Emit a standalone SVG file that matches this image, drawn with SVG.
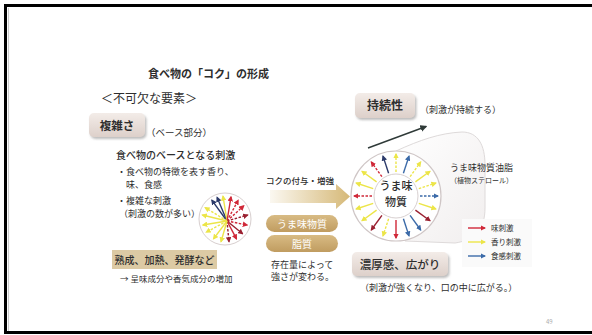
<svg xmlns="http://www.w3.org/2000/svg" width="592" height="335" viewBox="0 0 592 335">
<style>
text{font-family:"Noto Sans CJK JP","Noto Sans",sans-serif;fill:#2e2e2e}
.b{font-weight:bold}
.m{font-weight:500}
.pill{fill:#fff;font-size:10px;text-anchor:middle}
.ar{fill:none;stroke-width:1.4}
.r{stroke:#d02838}.y{stroke:#ece548}.bl{stroke:#3b6aa8}.dr{stroke:#9a2030}.nv{stroke:#2c3a6a}
.d{stroke-dasharray:2.5 1.5}
</style>
<defs>
<filter id="sh" x="-20%" y="-30%" width="150%" height="170%"><feDropShadow dx="1.5" dy="2" stdDeviation="1.2" flood-color="#888" flood-opacity="0.55"/></filter>
<linearGradient id="boxg" x1="0" y1="0" x2="0" y2="1"><stop offset="0" stop-color="#f3ece8"/><stop offset="1" stop-color="#ddd0ca"/></linearGradient>
<linearGradient id="pillg" x1="0" y1="0" x2="0" y2="1"><stop offset="0" stop-color="#d8bb84"/><stop offset="1" stop-color="#c09c60"/></linearGradient>
<linearGradient id="arrg" x1="0" y1="0" x2="1" y2="0"><stop offset="0" stop-color="#fbf8f1"/><stop offset="1" stop-color="#d6b978"/></linearGradient>
<linearGradient id="cylg" x1="0" y1="0" x2="1" y2="1"><stop offset="0" stop-color="#ffffff"/><stop offset="1" stop-color="#f1eeee"/></linearGradient>
<marker id="mr" viewBox="0 0 10 10" refX="8" refY="5" markerWidth="4" markerHeight="4" orient="auto"><path d="M0,0L10,5L0,10z" fill="#d02838"/></marker>
<marker id="my" viewBox="0 0 10 10" refX="8" refY="5" markerWidth="4" markerHeight="4" orient="auto"><path d="M0,0L10,5L0,10z" fill="#ece548"/></marker>
<marker id="mb" viewBox="0 0 10 10" refX="8" refY="5" markerWidth="4" markerHeight="4" orient="auto"><path d="M0,0L10,5L0,10z" fill="#3b6aa8"/></marker>
<marker id="md" viewBox="0 0 10 10" refX="8" refY="5" markerWidth="4" markerHeight="4" orient="auto"><path d="M0,0L10,5L0,10z" fill="#9a2030"/></marker>
<marker id="mn" viewBox="0 0 10 10" refX="8" refY="5" markerWidth="4" markerHeight="4" orient="auto"><path d="M0,0L10,5L0,10z" fill="#2c3a6a"/></marker>
<marker id="mk" viewBox="0 0 10 10" refX="8" refY="5" markerWidth="5" markerHeight="5" orient="auto"><path d="M0,0L10,5L0,10z" fill="#2f3a38"/></marker>
</defs>

<!-- frame -->
<rect width="592" height="335" fill="#fff"/>
<path d="M592 5.5H5.5V332.5H592" fill="none" stroke="#000" stroke-width="3"/>
<line x1="8.5" y1="8" x2="8.5" y2="331" stroke="#ccc" stroke-width="1"/>

<text class="b" x="148" y="78" font-size="11">食べ物の「コク」の形成</text>
<text x="101" y="103" font-size="12">＜不可欠な要素＞</text>

<g id="fukuzatsu">
<rect x="89" y="113" width="56" height="24" rx="5" fill="url(#boxg)" filter="url(#sh)"/>
<text class="b" x="117" y="129.5" font-size="11.5" text-anchor="middle">複雑さ</text>
</g>
<text x="146" y="136" font-size="9.5">（ベース部分）</text>

<g id="base-text">
<text class="m" x="116" y="159" font-size="10">食べ物のベースとなる刺激</text>
<text x="117" y="175" font-size="9">・食べ物の特徴を表す香り、</text>
<text x="126" y="188" font-size="9">味、食感</text>
<text x="117" y="204" font-size="9">・複雑な刺激</text>
<text x="119" y="217" font-size="9">（刺激の数が多い）</text>
</g>

<g id="small-wheel">
<circle cx="225" cy="219" r="26" fill="#fff" stroke="#d8cfcf" stroke-width="1"/>
<line class="ar nv" x1="227" y1="221" x2="211.8" y2="200.2" marker-end="url(#mn)"/>
<line class="ar nv" x1="227" y1="221" x2="217.1" y2="197.4" marker-end="url(#mn)"/>
<line class="ar y" x1="227" y1="221" x2="223" y2="196.1" marker-end="url(#my)"/>
<line class="ar r" x1="227" y1="221" x2="231" y2="196.8" marker-end="url(#mr)"/>
<line class="ar r d" x1="227" y1="221" x2="238.2" y2="200.2" marker-end="url(#mr)"/>
<line class="ar r d" x1="227" y1="221" x2="243.8" y2="205.8" marker-end="url(#mr)"/>
<line class="ar dr d" x1="227" y1="221" x2="247.7" y2="215" marker-end="url(#md)"/>
<line class="ar r d" x1="227" y1="221" x2="247.2" y2="225" marker-end="url(#mr)"/>
<line class="ar dr" x1="227" y1="221" x2="242.6" y2="233.8" marker-end="url(#md)"/>
<line class="ar r" x1="227" y1="221" x2="236.5" y2="238.9" marker-end="url(#mr)"/>
<line class="ar dr d" x1="227" y1="221" x2="229" y2="241.7" marker-end="url(#md)"/>
<line class="ar y" x1="227" y1="221" x2="221" y2="241.7" marker-end="url(#my)"/>
<line class="ar y" x1="227" y1="221" x2="213.5" y2="238.9" marker-end="url(#my)"/>
<line class="ar y d" x1="227" y1="221" x2="206.2" y2="232.2" marker-end="url(#my)"/>
<line class="ar y" x1="227" y1="221" x2="202.8" y2="225" marker-end="url(#my)"/>
<line class="ar y" x1="227" y1="221" x2="202.3" y2="215" marker-end="url(#my)"/>
<line class="ar y d" x1="227" y1="221" x2="205.1" y2="207.5" marker-end="url(#my)"/>
</g>

<g id="jukusei">
<rect x="112" y="250" width="105" height="19" fill="#dccaa4"/>
<text class="m" x="164.5" y="263.5" font-size="10" text-anchor="middle">熟成、加熱、発酵など</text>
</g>
<text x="120" y="282" font-size="8.5">→ 呈味成分や香気成分の増加</text>

<g id="koku-arrow">
<text class="m" x="266" y="184" font-size="8.5">コクの付与・増強</text>
<path d="M270 190H336V184L350 196.5L336 209V203H270Z" fill="url(#arrg)"/>
</g>
<g id="umami-pill">
<rect x="266" y="215" width="72" height="17" rx="8.5" fill="url(#pillg)"/>
<text class="pill" x="302" y="227.5">うま味物質</text>
</g>
<g id="shishitsu-pill">
<rect x="266" y="235" width="72" height="17" rx="8.5" fill="url(#pillg)"/>
<text class="pill" x="302" y="247.5">脂質</text>
</g>
<text x="271" y="268" font-size="9">存在量によって</text>
<text x="271" y="280" font-size="9">強さが変わる。</text>

<g id="jizokusei">
<rect x="355" y="93" width="60" height="25" rx="5" fill="url(#boxg)" filter="url(#sh)"/>
<text class="b" x="385" y="110" font-size="12" text-anchor="middle">持続性</text>
</g>
<text x="420" y="113" font-size="9">（刺激が持続する）</text>

<g id="connectors">
<line x1="368" y1="148" x2="426" y2="126.5" stroke="#2f3a38" stroke-width="1.4" marker-end="url(#mk)"/>
</g>

<g id="cylinder">
<path d="M396 151C420 140 440 133 462 132C478 132 485 145 485 165L485 208C485 228 476 240 455 243L405 241Z" fill="url(#cylg)" stroke="#dedada" stroke-width="1"/>
<text x="450" y="171" font-size="9">うま味物質油脂</text>
<text x="450" y="183" font-size="7">（植物ステロール）</text>
</g>

<g id="umami-circle">
<circle cx="396" cy="196" r="45" fill="#fff" stroke="#cfc6c6" stroke-width="1.2"/>
<circle cx="396" cy="196" r="22" fill="#fff" stroke="#d8d0d0" stroke-width="1"/>
<line class="ar y d" x1="396" y1="172" x2="396" y2="154" marker-end="url(#my)"/>
<line class="ar bl" x1="403.4" y1="173.2" x2="409" y2="156.1" marker-end="url(#mb)"/>
<line class="ar y d" x1="410.1" y1="176.6" x2="420.7" y2="162" marker-end="url(#my)"/>
<line class="ar y" x1="415.4" y1="181.9" x2="430" y2="171.3" marker-end="url(#my)"/>
<line class="ar y d" x1="418.8" y1="188.6" x2="435.9" y2="183" marker-end="url(#my)"/>
<line class="ar bl d" x1="420" y1="196" x2="438" y2="196" marker-end="url(#mb)"/>
<line class="ar y" x1="418.8" y1="203.4" x2="435.9" y2="209" marker-end="url(#my)"/>
<line class="ar dr" x1="415.4" y1="210.1" x2="430" y2="220.7" marker-end="url(#md)"/>
<line class="ar bl" x1="410.1" y1="215.4" x2="420.7" y2="230" marker-end="url(#mb)"/>
<line class="ar bl" x1="403.4" y1="218.8" x2="409" y2="235.9" marker-end="url(#mb)"/>
<line class="ar r" x1="396" y1="220" x2="396" y2="238" marker-end="url(#mr)"/>
<line class="ar y d" x1="388.6" y1="218.8" x2="383" y2="235.9" marker-end="url(#my)"/>
<line class="ar dr" x1="381.9" y1="215.4" x2="371.3" y2="230" marker-end="url(#md)"/>
<line class="ar y" x1="376.6" y1="210.1" x2="362" y2="220.7" marker-end="url(#my)"/>
<line class="ar y" x1="373.2" y1="203.4" x2="356.1" y2="209" marker-end="url(#my)"/>
<line class="ar r d" x1="372" y1="196" x2="354" y2="196" marker-end="url(#mr)"/>
<line class="ar y" x1="373.2" y1="188.6" x2="356.1" y2="183" marker-end="url(#my)"/>
<line class="ar y" x1="376.6" y1="181.9" x2="362" y2="171.3" marker-end="url(#my)"/>
<line class="ar r d" x1="381.9" y1="176.6" x2="371.3" y2="162" marker-end="url(#mr)"/>
<line class="ar nv" x1="388.6" y1="173.2" x2="383" y2="156.1" marker-end="url(#mn)"/>
<text class="m" x="396" y="190" font-size="11" text-anchor="middle">うま味</text>
<text class="m" x="396" y="206" font-size="11" text-anchor="middle">物質</text>
</g>

<g id="legend">
<rect x="462" y="219" width="70" height="48" fill="#fafafa"/>
<line class="ar r" x1="468" y1="228" x2="485" y2="228" marker-end="url(#mr)"/>
<line class="ar y" x1="468" y1="242" x2="485" y2="242" marker-end="url(#my)"/>
<line class="ar bl" x1="468" y1="256" x2="485" y2="256" marker-end="url(#mb)"/>
<text x="491" y="231" font-size="7.5">味刺激</text>
<text x="491" y="245" font-size="7.5">香り刺激</text>
<text x="491" y="259" font-size="7.5">食感刺激</text>
</g>

<g id="noukou">
<rect x="352" y="252" width="96" height="24" rx="5" fill="url(#boxg)" filter="url(#sh)"/>
<text class="m" x="400" y="268.5" font-size="11.5" text-anchor="middle">濃厚感、広がり</text>
</g>
<text x="360" y="291" font-size="9">（刺激が強くなり、口の中に広がる。）</text>

<text x="546" y="324" font-size="6" style="fill:#aaa">49</text>
</svg>
